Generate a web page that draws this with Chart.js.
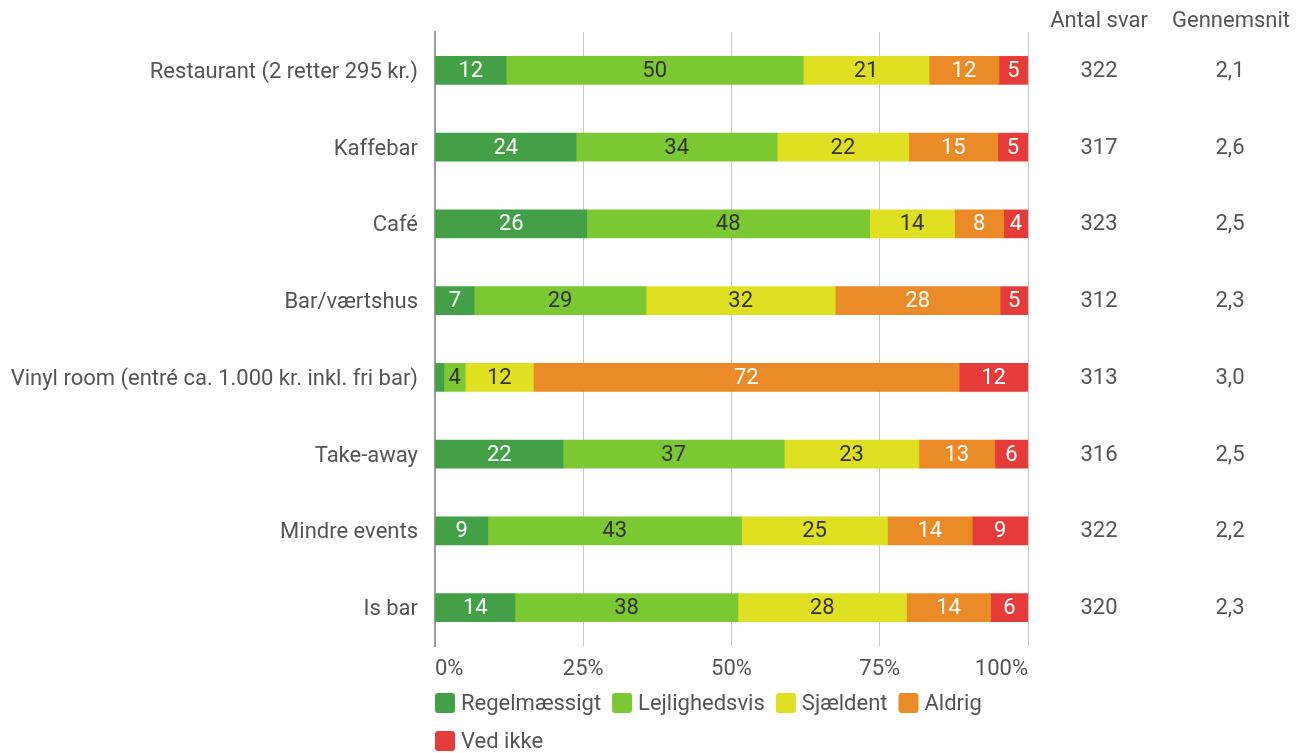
<!DOCTYPE html>
<html>
<head>
<meta charset="utf-8">
<script src="https://cdn.jsdelivr.net/npm/chart.js@4"></script>
<style>
    html, body { margin: 0; padding: 0; background: #fff; }
    #wrap { width: 1301px; height: 753px; }
</style>
</head>
<body>
<div id="wrap"><canvas id="chart" width="1301" height="753"></canvas></div>
<script>
const categories = [
    "Restaurant (2 retter 295 kr.)",
    "Kaffebar",
    "Café",
    "Bar/værtshus",
    "Vinyl room (entré ca. 1.000 kr. inkl. fri bar)",
    "Take-away",
    "Mindre events",
    "Is bar"
];
const seriesNames = ["Regelmæssigt", "Lejlighedsvis", "Sjældent", "Aldrig", "Ved ikke"];
const regelmaessigt = [12.0, 23.8, 25.6, 6.6, 1.5, 21.6, 8.9, 13.5];
const lejlighedsvis = [50.1, 33.9, 47.7, 29.0, 3.6, 37.3, 42.8, 37.6];
const sjaeldent = [21.2, 22.2, 14.3, 31.9, 11.5, 22.7, 24.6, 28.4];
const aldrig = [11.8, 15.0, 8.3, 27.8, 71.8, 12.8, 14.3, 14.2];
const vedIkke = [4.9, 5.1, 4.1, 4.7, 11.6, 5.6, 9.4, 6.3];
const antalSvar = [322, 317, 323, 312, 313, 316, 322, 320];
const gennemsnit = [2.1, 2.6, 2.5, 2.3, 3.0, 2.5, 2.2, 2.3];
const xTicks = [0, 25, 50, 75, 100];

const colors = ["#43a047", "#7cc832", "#e0e023", "#ea8b28", "#e53b39"];
const labelColors = ["#fff", "#333", "#333", "#fff", "#fff"];
const textColor = "#555";
const font = "Roboto";
const fontSize = 22;

const seriesValues = [regelmaessigt, lejlighedsvis, sjaeldent, aldrig, vedIkke];

// numbers inside the bar segments (skip the tiny ones)
const valueLabels = {
    id: "valueLabels",
    afterDatasetsDraw(chart) {
        const ctx = chart.ctx;
        ctx.save();
        ctx.font = fontSize + "px " + font;
        ctx.textAlign = "center";
        ctx.textBaseline = "middle";
        chart.data.datasets.forEach((ds, i) => {
            const meta = chart.getDatasetMeta(i);
            meta.data.forEach((bar, j) => {
                const v = ds.data[j];
                if (v < 3) return;
                ctx.fillStyle = labelColors[i];
                ctx.fillText(Math.round(v), (bar.x + bar.base) / 2, bar.y + 1);
            });
        });
        ctx.restore();
    }
};

// "Antal svar" and "Gennemsnit" columns on the right
const sideColumns = {
    id: "sideColumns",
    afterDraw(chart) {
        const ctx = chart.ctx;
        const y = chart.scales.y;
        ctx.save();
        ctx.font = fontSize + "px " + font;
        ctx.fillStyle = textColor;
        ctx.textAlign = "center";
        ctx.textBaseline = "middle";
        ctx.fillText("Antal svar", 1099, 21);
        ctx.fillText("Gennemsnit", 1231, 21);
        categories.forEach((c, i) => {
            const py = y.getPixelForValue(i) + 1;
            ctx.fillText(antalSvar[i], 1099, py);
            ctx.fillText(gennemsnit[i].toFixed(1).replace(".", ","), 1230, py);
        });
        ctx.restore();
    }
};

// legend starting at the plot's left edge, wrapping at its right edge
const bottomLegend = {
    id: "bottomLegend",
    afterDraw(chart) {
        const ctx = chart.ctx;
        const area = chart.chartArea;
        ctx.save();
        ctx.font = fontSize + "px " + font;
        ctx.textBaseline = "middle";
        let x = area.left;
        let y = 703;
        seriesNames.forEach((name, i) => {
            const w = 20 + 6 + ctx.measureText(name).width;
            if (x + w > area.right + 10) {
                x = area.left;
                y += 38;
            }
            ctx.fillStyle = colors[i];
            ctx.beginPath();
            ctx.roundRect(x, y - 10, 20, 20, 3);
            ctx.fill();
            ctx.fillStyle = textColor;
            ctx.fillText(name, x + 26, y + 1);
            x += w + 11;
        });
        ctx.restore();
    }
};

new Chart(document.getElementById("chart"), {
    type: "bar",
    data: {
        labels: categories,
        datasets: seriesNames.map((name, i) => ({
            label: name,
            data: seriesValues[i],
            backgroundColor: colors[i],
            borderWidth: 0,
            barThickness: 28
        }))
    },
    options: {
        indexAxis: "y",
        responsive: false,
        animation: false,
        layout: { padding: { top: 32, right: 273, left: 0, bottom: 0 } },
        plugins: {
            legend: { display: false },
            tooltip: { enabled: false }
        },
        scales: {
            x: {
                stacked: true,
                min: 0,
                max: 100,
                afterBuildTicks: (s) => { s.ticks = xTicks.map(v => ({ value: v })); },
                afterFit: (s) => { s.height = 107; },
                grid: { color: "#c8c8c8", drawTicks: false },
                border: { display: false },
                ticks: {
                    align: "inner",
                    padding: 10,
                    color: textColor,
                    font: { family: font, size: fontSize },
                    callback: (v) => v + "%"
                }
            },
            y: {
                stacked: true,
                afterFit: (s) => { s.width = 435; },
                grid: { display: false },
                border: { color: "#9e9e9e", width: 2 },
                ticks: {
                    padding: 9,
                    labelOffset: 2,
                    color: textColor,
                    font: { family: font, size: fontSize }
                }
            }
        }
    },
    plugins: [valueLabels, sideColumns, bottomLegend]
});
</script>
</body>
</html>
